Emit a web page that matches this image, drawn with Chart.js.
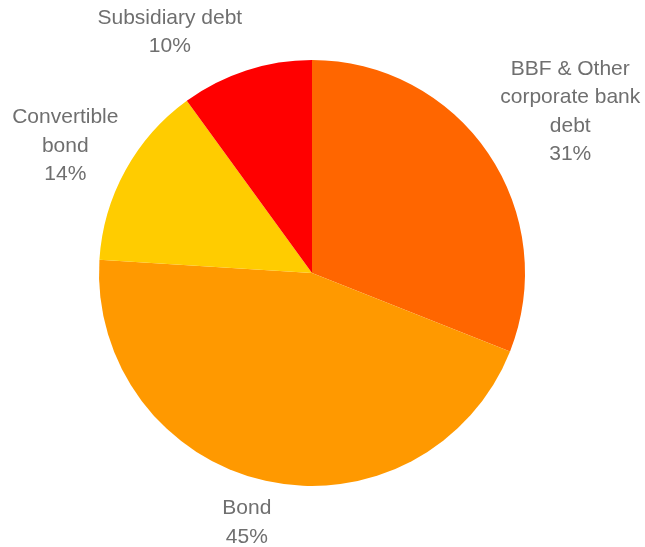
<!DOCTYPE html>
<html>
<head>
<meta charset="utf-8">
<script src="https://cdn.jsdelivr.net/npm/chart.js@4/dist/chart.umd.min.js"></script>
<style>
  html, body { margin: 0; padding: 0; background: #fff; }
  #wrap { width: 645px; height: 547px; }
</style>
</head>
<body>
<div id="wrap"><canvas id="grafico"></canvas></div>
<script>
// Datos del gráfico (porcentajes de la deuda)
const categorias = ['BBF & Other corporate bank debt', 'Bond', 'Convertible bond', 'Subsidiary debt'];
const valores = [31, 45, 14, 10];
const colores = ['#FF6600', '#FF9900', '#FFCC00', '#FF0000'];

// Texto de cada etiqueta, línea por línea
const lineasEtiqueta = [
    ['BBF & Other', 'corporate bank', 'debt'],
    ['Bond'],
    ['Convertible', 'bond'],
    ['Subsidiary debt']
];
// Ajuste fino de cada etiqueta respecto a su punto de anclaje
const ajusteEtiqueta = [[49, -19], [-10, 3], [-25, -5], [-64, 0]];

// Plugin para dibujar las etiquetas fuera de cada sector
const etiquetasFuera = {
    id: 'etiquetasFuera',
    afterDatasetsDraw(chart) {
        const ctx = chart.ctx;
        const meta = chart.getDatasetMeta(0);
        const total = valores.reduce((a, b) => a + b, 0);
        ctx.save();
        ctx.font = '21px "Liberation Sans", Arial, sans-serif';
        ctx.fillStyle = '#6f6f6f';
        ctx.textAlign = 'center';
        ctx.textBaseline = 'middle';
        const alto = 28.5;
        meta.data.forEach((arc, i) => {
            const p = arc.getProps(['x', 'y', 'startAngle', 'endAngle', 'outerRadius']);
            const medio = (p.startAngle + p.endAngle) / 2;
            const r = p.outerRadius + 40;
            const cx = p.x + Math.cos(medio) * r + ajusteEtiqueta[i][0];
            const cy = p.y + Math.sin(medio) * r + ajusteEtiqueta[i][1];
            const lineas = lineasEtiqueta[i].concat([Math.round(valores[i] / total * 100) + '%']);
            const y0 = cy - (lineas.length - 1) * alto / 2;
            lineas.forEach((t, j) => ctx.fillText(t, cx, y0 + j * alto));
        });
        ctx.restore();
    }
};

new Chart(document.getElementById('grafico').getContext('2d'), {
    type: 'pie',
    data: {
        labels: categorias,
        datasets: [{
            data: valores,
            backgroundColor: colores,
            borderWidth: 0,
            hoverOffset: 0
        }]
    },
    options: {
        responsive: true,
        maintainAspectRatio: false,
        animation: false,
        layout: {
            padding: { left: 99, right: 120, top: 60, bottom: 61 }
        },
        plugins: {
            legend: { display: false },
            tooltip: { enabled: false }
        }
    },
    plugins: [etiquetasFuera]
});
</script>
</body>
</html>
